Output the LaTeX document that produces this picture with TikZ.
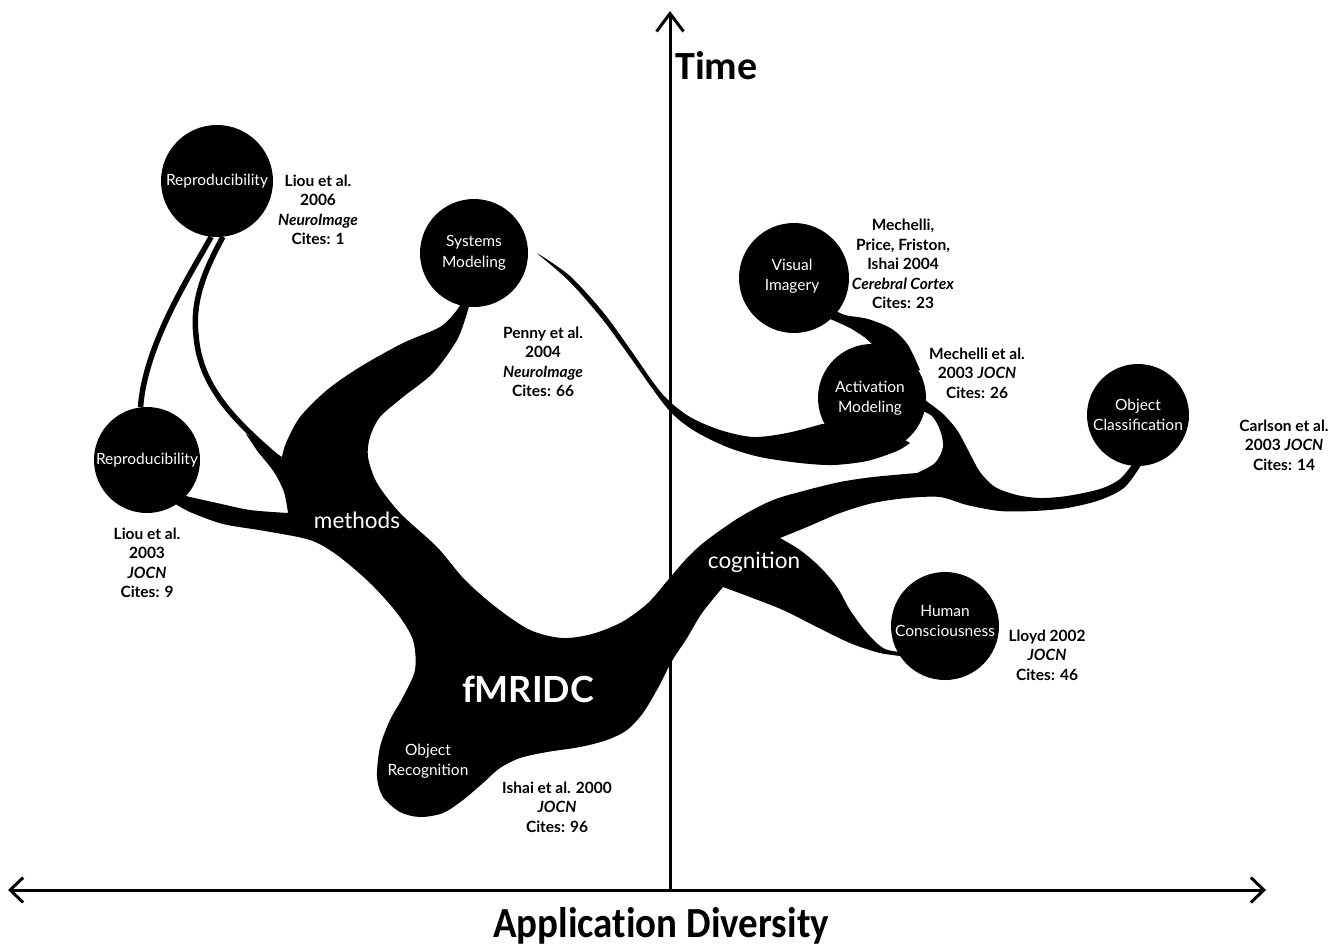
\documentclass[tikz,border=0pt]{standalone}
\usepackage{fontspec}
\setmainfont{Lato}
\newfontfamily\calib[Ligatures=NoCommon]{Carlito}
\usetikzlibrary{arrows.meta}
\tikzset{
  bub/.style={circle, fill=black, inner sep=0pt, minimum size=#1},
  btxt/.style={text=white, align=center, inner sep=0pt, font=\fontsize{15.5}{20.5}\selectfont},
  cite/.style={text=black, align=center, inner sep=0pt, font=\fontsize{15.5}{19.5}\selectfont\bfseries},
  brlab/.style={text=white, inner sep=0pt, font=\fontsize{22.5}{24}\selectfont},
  blob/.style={fill=black},
  twig/.style={line width=5.5pt, black},
  axis/.style={line width=3pt, black}
}
\begin{document}
\begin{tikzpicture}[x=1pt,y=-1pt]
\useasboundingbox[fill=white] (0,0) rectangle (1340,946);

% axes
\coordinate (orig) at (670,890);
\coordinate (ytop) at (670,11);
\coordinate (xl) at (8,890);
\coordinate (xr) at (1266,890);
\draw[axis,{Straight Barb[length=13pt,width=25pt]}-{Straight Barb[length=13pt,width=25pt]}] (xl) -- (xr);
\draw[axis,-{Straight Barb[length=18pt,width=27pt]}] (orig) -- (ytop);
\node[anchor=base west, inner sep=0pt, font=\calib\fontsize{40}{41}\selectfont\bfseries] (time) at (675,79) {Time};
\node[anchor=base, inner sep=0pt, yscale=1.1, font=\calib\fontsize{39}{40}\selectfont\bfseries] (xlab) at (661,937) {Application Diversity};

% circles
\node[bub=112pt] (rtop) at (217,181) {};
\node[bub=108pt] (sm) at (474,253) {};
\node[bub=106pt] (rleft) at (147,460) {};
\node[bub=110pt] (vi) at (794,278) {};
\node[bub=108pt] (am) at (872,398) {};
\node[bub=102pt] (oc) at (1138,415) {};
\node[bub=108pt] (hc) at (945,626) {};

% thin twigs
\draw[twig] (rtop.-96) .. controls (190,275) and (145,345) .. (rleft.97);
\coordinate (tj) at (280,460);
\draw[twig] (rtop.-84) .. controls (205,270) and (192,300) .. (196,335) .. controls (200,390) and (240,425) .. (tj);

% main trunk
\fill[blob]
 plot[smooth] coordinates {(462,300) (457,310) (440,327) (403,343) (360,367) (327,390) (300,417) (286,443) (282,457)}
 -- (246,434)
 -- plot[smooth] coordinates {(258,452) (274,472) (284,492) (288,513)}
 -- plot[smooth] coordinates {(288,513) (250,510) (217,503) (190,497) (178,494)}
 -- plot[smooth] coordinates {(174,503) (190,512) (223,524) (265,531) (310,540) (337,555) (370,583) (397,613) (413,640) (415,670) (403,697) (390,720) (380,747) (377,777) (383,797) (400,812) (420,817) (443,813) (463,800) (483,783) (500,768) (520,758) (547,752) (580,747) (607,740) (627,730) (643,713) (658,688) (672,661) (687,638) (702,613) (723,587)}
 -- plot[smooth] coordinates {(723,587) (750,597) (783,610) (817,627) (850,643) (880,653) (910,657)}
 -- plot[smooth] coordinates {(910,653) (885,649) (867,633) (850,610) (837,587) (820,567) (800,550) (780,538)}
 -- plot[smooth] coordinates {(780,538) (807,527) (840,513) (873,503) (907,498) (940,497) (967,505) (1000,511) (1033,511) (1067,508) (1100,500) (1125,487) (1143,462)}
 -- plot[smooth] coordinates {(1134,462) (1120,479) (1100,489) (1067,496) (1040,498) (1017,495) (995,487) (980,472) (968,450) (957,430) (942,413) (922,398)}
 -- plot[smooth] coordinates {(920,410) (932,416) (940,430) (943,447) (935,463) (917,473)}
 -- plot[smooth] coordinates {(917,473) (873,477) (840,482) (807,490) (773,500) (740,517) (707,540) (688,557) (668,580) (648,603) (622,622) (592,634) (562,638) (530,630) (497,608) (465,580) (437,547) (400,513) (377,483) (368,457) (370,437) (380,417) (403,397) (433,373) (457,340) (468,310) (470,300)}
 -- cycle;

% S-curve from Systems Modeling to Activation Modeling
\fill[blob]
 plot[smooth] coordinates {(537,253) (570,276) (603,312) (630,349) (653,382) (668,400) (690,417) (720,430) (753,437) (787,433) (822,424)}
 -- (860,425) -- (905,440)
 -- plot[smooth] coordinates {(910,443) (897,451) (867,461) (833,465) (800,463) (760,457) (727,447) (693,430) (667,408) (630,357) (603,320) (570,282) (539,255)}
 -- cycle;

% Visual Imagery to Activation Modeling
\fill[blob]
 plot[smooth] coordinates {(830,308) (845,315) (868,319) (892,329) (908,345) (920,370)}
 -- (900,375) -- (876,352)
 -- plot[smooth] coordinates {(872,344) (864,337) (850,328) (828,318)}
 -- cycle;

% bubble texts
\node[btxt] (rtopT) at (rtop) {Reproducibility};
\node[btxt] (smT) at (474,253) {Systems\\Modeling};
\node[btxt] (rleftT) at (rleft) {Reproducibility};
\node[btxt] (viT) at (792,276) {Visual\\Imagery};
\node[btxt] (amT) at (870,398) {Activation\\Modeling};
\node[btxt] (ocT) at (1138,415) {Object\\Classification};
\node[btxt] (hcT) at (945,621) {Human\\Consciousness};
\node[btxt] (orT) at (428,761) {Object\\Recognition};

% branch labels
\node[brlab] (meth) at (357,520) {methods};
\node[brlab] (cogn) at (754,562) {cognition};
\node[text=white, inner sep=0pt, font=\fontsize{36}{38}\selectfont\bfseries] (root) at (528,689) {fMRIDC};

% citations
\node[cite] (c1) at (318,210) {Liou et al.\\2006\\\textit{NeuroImage}\\Cites: 1};
\node[cite] (c2) at (543,362) {Penny et al.\\2004\\\textit{NeuroImage}\\Cites: 66};
\node[cite] (c3) at (903,264) {Mechelli,\\Price, Friston,\\Ishai 2004\\\textit{Cerebral Cortex}\\Cites: 23};
\node[cite] (c4) at (977,373) {Mechelli et al.\\2003 \textit{JOCN}\\Cites: 26};
\node[cite] (c5) at (1284,445) {Carlson et al.\\2003 \textit{JOCN}\\Cites: 14};
\node[cite] (c6) at (1047,655) {Lloyd 2002\\\textit{JOCN}\\Cites: 46};
\node[cite] (c7) at (557,807) {Ishai et al. 2000\\\textit{JOCN}\\Cites: 96};
\node[cite] (c8) at (147,563) {Liou et al.\\2003\\\textit{JOCN}\\Cites: 9};
\end{tikzpicture}
\end{document}
